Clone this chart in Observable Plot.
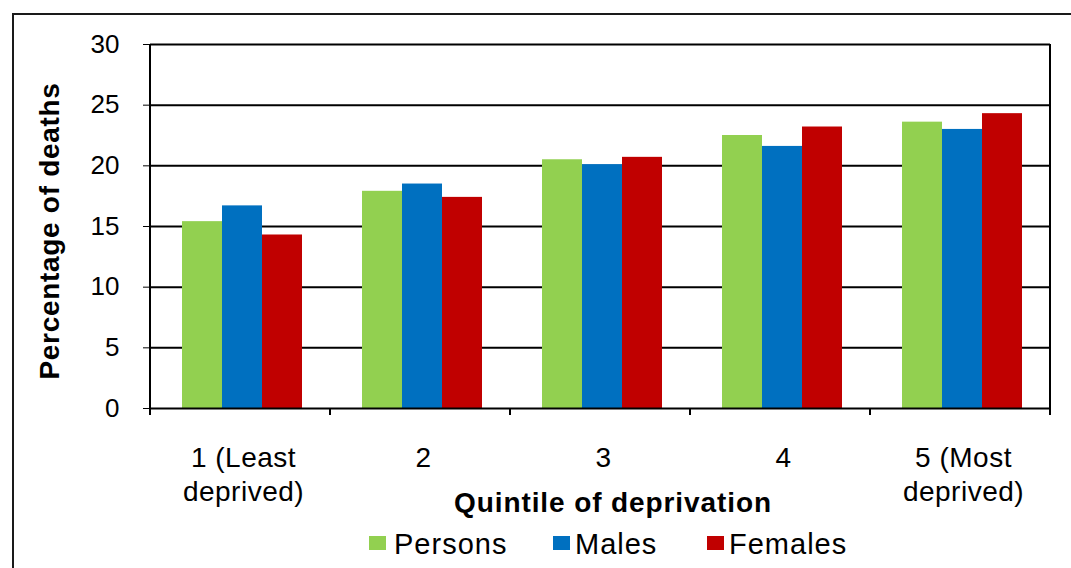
<!DOCTYPE html>
<html><head><meta charset="utf-8">
<script src="https://cdn.jsdelivr.net/npm/d3@7"></script>
<script src="https://cdn.jsdelivr.net/npm/@observablehq/plot@0.6"></script>
<style>
body{margin:0;background:#fff;}
#wrap{position:relative;width:1071px;height:568px;overflow:hidden;background:#fff;font-family:"Liberation Sans",Arial,sans-serif;color:#000;}
#border{position:absolute;left:12px;top:13px;width:1120px;height:620px;border:2px solid #1a1a1a;box-sizing:border-box;}
#chart{position:absolute;left:0;top:0;}
#chart g[aria-label="text"] text{letter-spacing:0.5px;}
.ytitle{position:absolute;left:50px;top:231px;transform:translate(-50%,-50%) rotate(-90deg);font-weight:bold;font-size:28px;line-height:28px;white-space:nowrap;letter-spacing:0.7px;}
.xtitle{position:absolute;left:613px;top:489px;transform:translateX(-50%);font-weight:bold;font-size:28px;line-height:28px;white-space:nowrap;letter-spacing:0.9px;}
.leg{position:absolute;top:530px;font-size:29px;line-height:29px;white-space:nowrap;letter-spacing:1px;}
.sw{position:absolute;top:536px;width:17px;height:14px;}
</style>
</head><body>
<div id="wrap">
  <div id="border"></div>
  <div id="chart"></div>
  <div class="ytitle">Percentage of deaths</div>
  <div class="xtitle">Quintile of deprivation</div>
  <div id="legend"></div>
</div>
<script>
const quintiles = ["1 (Least deprived)", "2", "3", "4", "5 (Most deprived)"];
const tickLabels = ["1 (Least\ndeprived)", "2", "3", "4", "5 (Most\ndeprived)"];
const seriesNames = ["Persons", "Males", "Females"];
const persons = [15.4, 17.9, 20.5, 22.5, 23.6];
const males = [16.7, 18.5, 20.1, 21.6, 23.0];
const females = [14.3, 17.4, 20.7, 23.2, 24.3];
const colors = ["#92D050", "#0070C0", "#C00000"];
const yTicks = [0, 5, 10, 15, 20, 25, 30];

const seriesValues = [persons, males, females];
const rows = [];
quintiles.forEach((q, i) => seriesNames.forEach((s, j) => rows.push({quintile: q, series: s, value: seriesValues[j][i]})));

const plot = Plot.plot({
  width: 1071, height: 520,
  marginLeft: 150, marginRight: 21, marginTop: 44, marginBottom: 112,
  style: {fontFamily: "Liberation Sans, Arial, sans-serif", fontSize: "26px", color: "#000", background: "transparent", overflow: "visible"},
  fx: {domain: quintiles, axis: null, padding: 0, label: null},
  x: {domain: seriesNames, axis: null, paddingInner: 0, paddingOuter: 0.75},
  y: {domain: [0, 30], ticks: yTicks, tickSize: 7, tickPadding: 24, label: null, tickFormat: d => String(d)},
  color: {domain: seriesNames, range: colors},
  marks: [
    Plot.ruleY(yTicks.filter(d => d > 0), {stroke: "#000", strokeWidth: 2}),
    Plot.barY(rows, {fx: "quintile", x: "series", y: "value", fill: "series", dx: 2}),
    Plot.ruleY([0], {stroke: "#000", strokeWidth: 2}),
    Plot.text(quintiles, {fx: d => d, text: (d, i) => tickLabels[i], frameAnchor: "bottom", lineAnchor: "top", dy: 35, dx: 3, fontSize: 28, lineHeight: 1.2, fill: "#000"})
  ]
});
document.getElementById("chart").appendChild(plot);

// axis decorations from the library's scales
const fxS = plot.scale("fx"), yS = plot.scale("y");
const fxBand = d3.scaleBand(fxS.domain, fxS.range).paddingInner(0).paddingOuter(0);
const yLin = d3.scaleLinear(yS.domain, yS.range);
const svg = d3.select(plot);
const g = svg.append("g").attr("stroke", "#000").attr("stroke-width", 2);
const y0 = yLin(0), yTop = yLin(30);
const xl = fxBand(quintiles[0]), xr = fxBand(quintiles[quintiles.length - 1]) + fxBand.bandwidth();
g.append("line").attr("x1", xl).attr("x2", xl).attr("y1", yTop).attr("y2", y0 + 7);
g.append("line").attr("x1", xr).attr("x2", xr).attr("y1", yTop).attr("y2", y0 + 7);
quintiles.slice(1).forEach(q => {
  const x = fxBand(q);
  g.append("line").attr("x1", x).attr("x2", x).attr("y1", y0).attr("y2", y0 + 7);
});

// legend
const legPos = [[369, 394], [553, 575], [707, 729]];
const leg = document.getElementById("legend");
seriesNames.forEach((s, i) => {
  const sw = document.createElement("div");
  sw.className = "sw"; sw.style.left = legPos[i][0] + "px"; sw.style.background = colors[i];
  leg.appendChild(sw);
  const t = document.createElement("div");
  t.className = "leg"; t.style.left = legPos[i][1] + "px"; t.textContent = s;
  leg.appendChild(t);
});
</script>
</body></html>
